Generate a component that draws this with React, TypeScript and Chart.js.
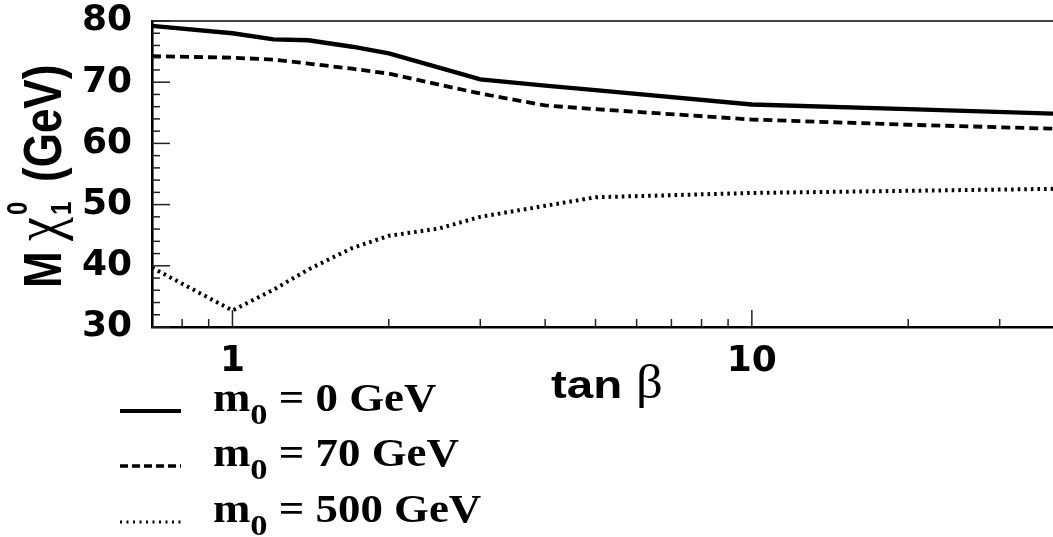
import React, { useEffect, useRef } from "react";
import { Chart, registerables } from "chart.js";

Chart.register(...registerables);

// tan(beta) sample points
const tanBeta = [0.7, 1, 1.2, 1.4, 1.7, 2, 2.5, 3, 4, 5, 10, 20, 40];
// neutralino mass (GeV) for each m0
const massM0_0 = [79.2, 78.0, 77.0, 76.85, 75.8, 74.7, 72.4, 70.45, 69.45, 68.7, 66.35, 65.6, 64.8];
const massM0_70 = [74.25, 74.0, 73.7, 73.05, 72.2, 71.4, 69.6, 68.15, 66.2, 65.6, 63.9, 63.05, 62.35];
const massM0_500 = [39.7, 32.7, 36.1, 39.4, 42.9, 44.9, 46.1, 48.0, 49.8, 51.2, 51.9, 52.25, 52.6];

const legendM0 = ["0", "70", "500"];

const xTickLabels = [1, 10];
const xMinorTicks = [0.8, 0.9, 2, 3, 4, 5, 6, 7, 8, 9, 20, 30];
const yTickLabels = [30, 40, 50, 60, 70, 80];
const yMinorTicks = [32, 34, 36, 38, 42, 44, 46, 48, 52, 54, 56, 58, 62, 64, 66, 68, 72, 74, 76, 78];

const X_MIN = 0.7;
const X_MAX = 38;
const Y_MIN = 30;
const Y_MAX = 80;

const SOLID: number[] = [];
const DASHED = [9, 5];
const DOTTED = [2.6, 4];

const SANS = "'Liberation Sans', Arial, sans-serif";
const SERIF = "'Liberation Serif', 'Times New Roman', serif";

type Piece = { text: string; font: string; dy?: number; gapAfter?: number };

function drawRun(ctx: CanvasRenderingContext2D, pieces: Piece[], x: number, y: number, sx: number) {
  ctx.save();
  ctx.translate(x, y);
  ctx.scale(sx, 1);
  ctx.textBaseline = "alphabetic";
  ctx.textAlign = "left";
  let cx = 0;
  for (const p of pieces) {
    ctx.font = p.font;
    ctx.fillText(p.text, cx, p.dy || 0);
    cx += ctx.measureText(p.text).width + (p.gapAfter || 0);
  }
  ctx.restore();
}

const decorPlugin = {
  id: "decor",
  afterDraw(chart: any) {
    const { ctx, chartArea: ca, scales } = chart;
    const xs = scales.x;
    const ys = scales.y;
    ctx.save();
    ctx.fillStyle = "#000";
    // top frame
    ctx.strokeStyle = "#000";
    ctx.lineWidth = 1.6;
    ctx.beginPath();
    ctx.moveTo(ca.left, ca.top);
    ctx.lineTo(ca.right + 2, ca.top);
    ctx.stroke();

    // inward ticks
    ctx.strokeStyle = "#222";
    ctx.lineWidth = 1.5;
    const hline = (v: number, len: number) => {
      const py = ys.getPixelForValue(v);
      ctx.beginPath();
      ctx.moveTo(ca.left, py);
      ctx.lineTo(ca.left + len, py);
      ctx.stroke();
    };
    const vline = (v: number, len: number) => {
      const px = xs.getPixelForValue(v);
      ctx.beginPath();
      ctx.moveTo(px, ca.bottom);
      ctx.lineTo(px, ca.bottom - len);
      ctx.stroke();
    };
    yMinorTicks.forEach((v) => hline(v, 8));
    yTickLabels.forEach((v) => hline(v, 18));
    xMinorTicks.forEach((v) => vline(v, 8));
    xTickLabels.forEach((v) => vline(v, 17));

    // y-axis title (rotated)
    ctx.save();
    ctx.translate(61, 288);
    ctx.rotate(-Math.PI / 2);
    ctx.scale(1, 1.2);
    ctx.textBaseline = "alphabetic";
    ctx.textAlign = "left";
    ctx.font = `bold 44px ${SANS}`;
    ctx.fillText("M", 0, 0);
    ctx.font = `54px ${SERIF}`;
    ctx.fillText("\u03C7", 47, -2);
    ctx.font = `bold 24px ${SANS}`;
    ctx.fillText("0", 73, -28);
    ctx.fillText("1", 73, 8);
    ctx.font = `bold 44px ${SANS}`;
    ctx.fillText("(GeV)", 106, 0);
    ctx.restore();

    // x-axis title
    drawRun(ctx, [{ text: "tan", font: `bold 38px ${SANS}` }], 551, 398, 1.25);
    drawRun(ctx, [{ text: "\u03B2", font: `48px ${SERIF}` }], 636, 398, 1.1);

    // legend
    const styles = [
      { dash: SOLID, width: 4 },
      { dash: [8, 4], width: 3.6 },
      { dash: [2, 4.5], width: 2.8 },
    ];
    const rowY = [411, 466, 522];
    legendM0.forEach((m, i) => {
      const st = styles[i];
      ctx.save();
      ctx.strokeStyle = "#000";
      ctx.lineWidth = st.width;
      ctx.setLineDash(st.dash);
      ctx.lineCap = "butt";
      ctx.beginPath();
      ctx.moveTo(120, rowY[i]);
      ctx.lineTo(181, rowY[i]);
      ctx.stroke();
      ctx.restore();
      drawRun(
        ctx,
        [
          { text: "m", font: `bold 39px ${SERIF}` },
          { text: "0", font: `bold 30px ${SERIF}`, dy: 13 },
          { text: ` = ${m} GeV`, font: `bold 39px ${SERIF}` },
        ],
        213,
        rowY[i],
        1.15
      );
    });
    ctx.restore();
  },
};

export default function App() {
  const ref = useRef<HTMLCanvasElement | null>(null);
  useEffect(() => {
    if (!ref.current) return;
    const mk = (vals: number[]) => tanBeta.map((t, i) => ({ x: t, y: vals[i] }));
    const chart = new Chart(ref.current, {
      type: "line",
      data: {
        datasets: [
          { label: "m0 = 0 GeV", data: mk(massM0_0), borderColor: "#000", borderWidth: 4.4, borderDash: SOLID, pointRadius: 0, tension: 0, fill: false },
          { label: "m0 = 70 GeV", data: mk(massM0_70), borderColor: "#000", borderWidth: 3.8, borderDash: DASHED, borderCapStyle: "butt", pointRadius: 0, tension: 0, fill: false },
          { label: "m0 = 500 GeV", data: mk(massM0_500), borderColor: "#000", borderWidth: 4, borderDash: DOTTED, borderCapStyle: "butt", pointRadius: 0, tension: 0, fill: false },
        ],
      },
      options: {
        responsive: false,
        animation: false,
        devicePixelRatio: 1,
        layout: { padding: { top: 21, right: 0, left: 0, bottom: 0 } },
        plugins: { legend: { display: false }, tooltip: { enabled: false } },
        scales: {
          x: {
            type: "logarithmic",
            min: X_MIN,
            max: X_MAX,
            grid: { display: false, drawTicks: false },
            border: { display: true, color: "#000", width: 2.6 },
            afterBuildTicks: (s: any) => {
              s.ticks = xTickLabels.map((v) => ({ value: v }));
            },
            afterFit: (s: any) => {
              s.height = 210;
              s.paddingLeft = 0;
              s.paddingRight = 0;
            },
            ticks: {
              autoSkip: false,
              maxRotation: 0,
              padding: 13,
              color: "#000",
              font: { family: "'DejaVu Sans'", weight: "bold", size: 36 },
              callback: (v: any) => String(v),
            },
          },
          y: {
            type: "linear",
            min: Y_MIN,
            max: Y_MAX,
            grid: { display: false, drawTicks: false },
            border: { display: true, color: "#000", width: 2.6 },
            afterBuildTicks: (s: any) => {
              s.ticks = yTickLabels.map((v) => ({ value: v }));
            },
            afterFit: (s: any) => {
              s.width = 152;
              s.paddingTop = 0;
              s.paddingBottom = 0;
            },
            ticks: {
              padding: 20,
              color: "#000",
              font: { family: "'DejaVu Sans'", weight: "bold", size: 36 },
              callback: (v: any) => String(v),
            },
          },
        },
      },
      plugins: [decorPlugin],
    } as any);
    return () => chart.destroy();
  }, []);
  return (
    <div style={{ position: "absolute", left: 0, top: 0, width: 1053, height: 537, background: "#fff" }}>
      <canvas ref={ref} width={1053} height={537} style={{ display: "block" }} />
    </div>
  );
}
